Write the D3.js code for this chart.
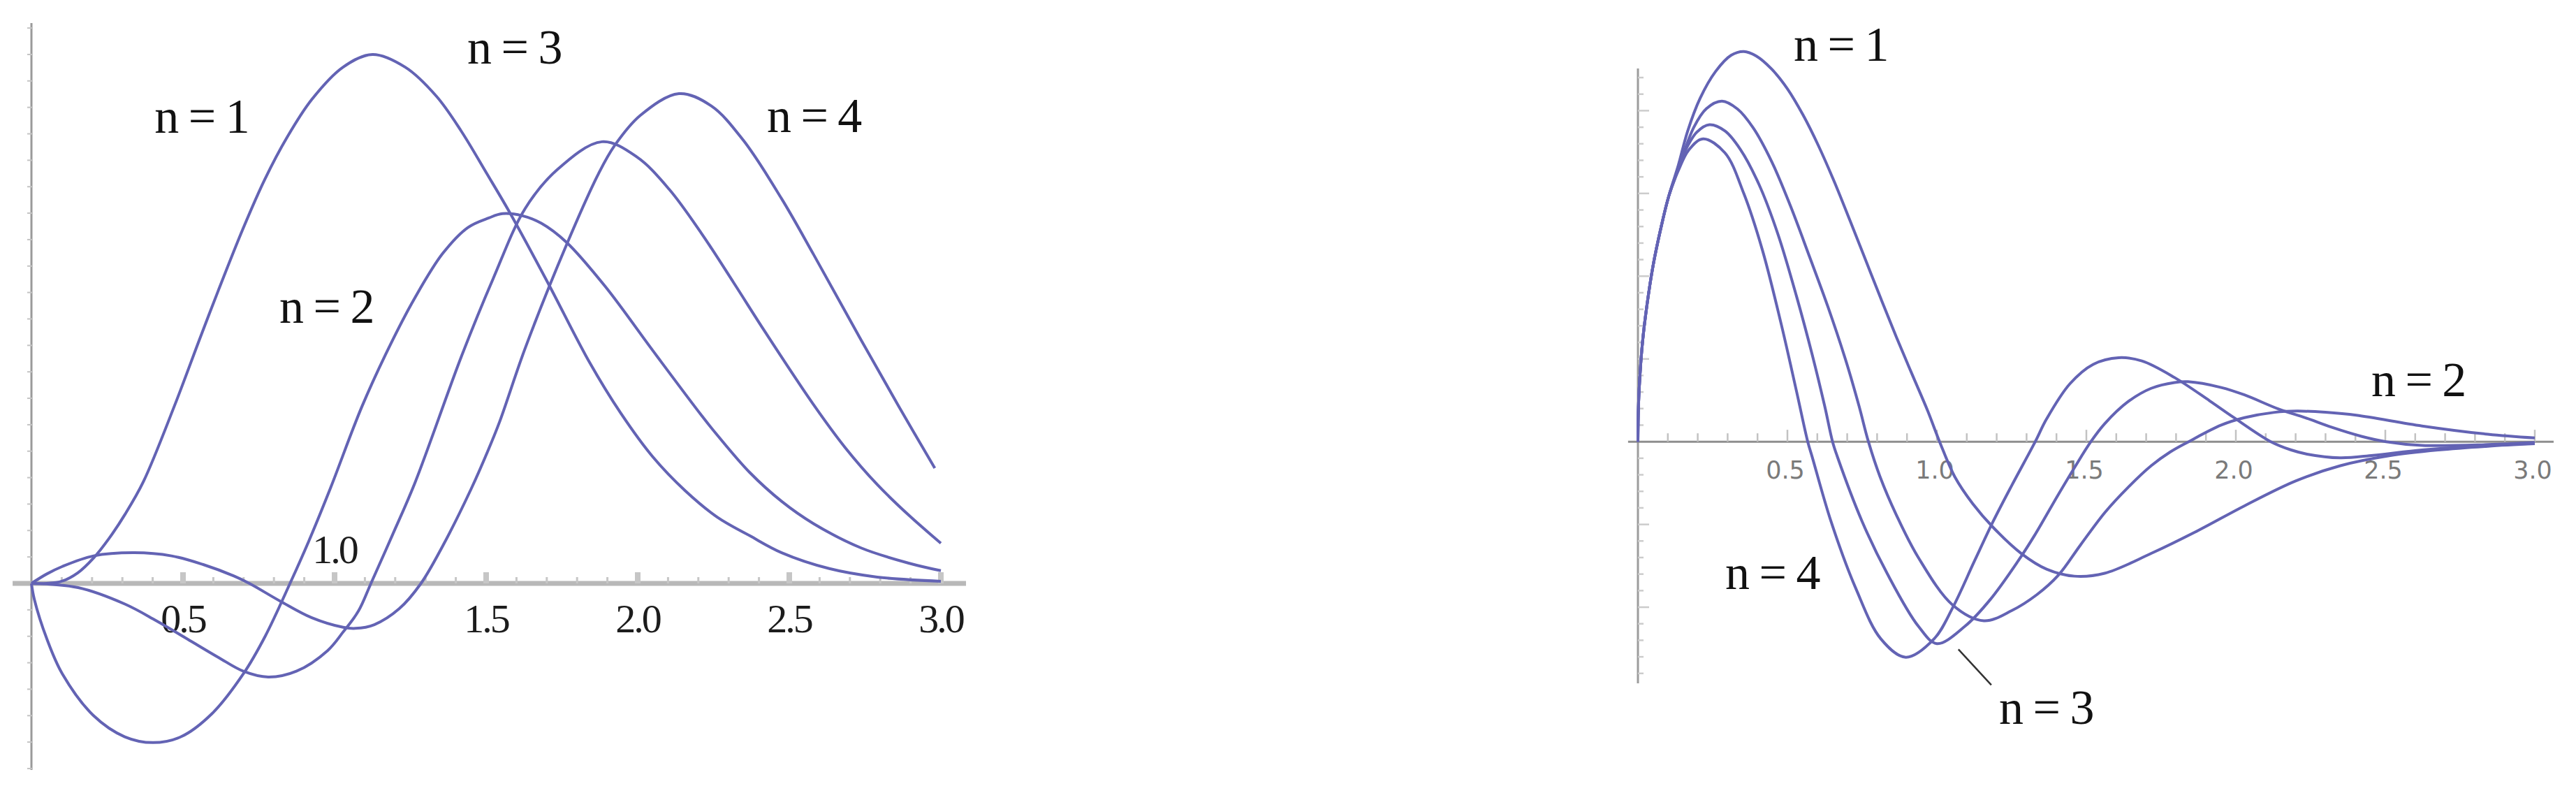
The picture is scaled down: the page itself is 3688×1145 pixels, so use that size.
<!DOCTYPE html>
<html>
<head>
<meta charset="utf-8">
<script src="https://cdn.jsdelivr.net/npm/d3@7"></script>
<style>
  body { margin: 0; background: #fff; }
  svg { display: block; }
</style>
</head>
<body>
<svg width="3688" height="1145"></svg>
<script>
// ---- left panel, values ----
const leftT_x = [0, 0.05, 0.10, 0.153, 0.205, 0.256, 0.308, 0.369, 0.472, 0.555, 0.616, 0.699, 0.770, 0.843, 0.925, 1.028, 1.125, 1.233, 1.336, 1.418, 1.502, 1.576, 1.703, 1.840, 1.945, 2.050, 2.157, 2.263, 2.370, 2.475, 2.632, 2.790, 3.0];
const leftT_y = [0, 0, 0.004, 0.02, 0.048, 0.085, 0.13, 0.192, 0.336, 0.462, 0.553, 0.672, 0.764, 0.843, 0.915, 0.976, 1.0, 0.976, 0.921, 0.855, 0.775, 0.703, 0.569, 0.419, 0.321, 0.239, 0.175, 0.125, 0.090, 0.058, 0.028, 0.012, 0.004];

const leftD_x = [0, 0.0095, 0.051, 0.102, 0.205, 0.308, 0.401, 0.493, 0.596, 0.699, 0.771, 0.853, 0.915, 0.987, 1.09, 1.182, 1.265, 1.357, 1.44, 1.509, 1.554, 1.62, 1.682, 1.765, 1.892, 2.05, 2.21, 2.263, 2.369, 2.475, 2.58, 2.737, 2.896, 3.0];
const leftD_y = [0, -0.030, -0.105, -0.171, -0.250, -0.290, -0.301, -0.290, -0.246, -0.171, -0.100, 0, 0.08, 0.181, 0.334, 0.449, 0.54, 0.624, 0.673, 0.691, 0.699, 0.695, 0.681, 0.645, 0.562, 0.44, 0.318, 0.28, 0.21, 0.155, 0.113, 0.067, 0.038, 0.024];

const leftM_x = [0, 0.154, 0.308, 0.41, 0.514, 0.617, 0.699, 0.781, 0.874, 0.977, 1.028, 1.079, 1.12, 1.192, 1.265, 1.419, 1.523, 1.629, 1.734, 1.882, 1.998, 2.104, 2.21, 2.316, 2.422, 2.58, 2.684, 2.79, 2.896, 3.0];
const leftM_y = [0, -0.008, -0.039, -0.070, -0.105, -0.140, -0.166, -0.177, -0.166, -0.127, -0.092, -0.052, 0, 0.093, 0.19, 0.43, 0.576, 0.709, 0.782, 0.835, 0.806, 0.745, 0.662, 0.569, 0.474, 0.338, 0.257, 0.187, 0.128, 0.076];

const leftU_x = [0, 0.051, 0.102, 0.205, 0.339, 0.462, 0.565, 0.668, 0.719, 0.822, 0.925, 1.028, 1.069, 1.131, 1.213, 1.285, 1.357, 1.45, 1.509, 1.544, 1.629, 1.765, 1.871, 1.924, 2.009, 2.136, 2.242, 2.348, 2.475, 2.58, 2.737, 2.864, 2.98];
const leftU_y = [0, 0.018, 0.032, 0.052, 0.058, 0.052, 0.036, 0.014, 0, -0.034, -0.065, -0.083, -0.085, -0.078, -0.048, 0, 0.071, 0.178, 0.255, 0.305, 0.445, 0.64, 0.775, 0.828, 0.885, 0.926, 0.903, 0.838, 0.727, 0.622, 0.46, 0.332, 0.218];

// ---- right panel ----
const rightA_x = [0, 0.001, 0.004, 0.015, 0.03, 0.051, 0.077, 0.103, 0.135, 0.166, 0.208, 0.26, 0.312, 0.354, 0.396, 0.448, 0.5, 0.552, 0.604, 0.657, 0.709, 0.761, 0.813, 0.865, 0.917, 0.969, 1.009, 1.06, 1.12, 1.188, 1.282, 1.367, 1.46, 1.561, 1.717, 1.873, 2.029, 2.2, 2.35, 2.513, 2.678, 2.843, 3.0];
const rightA_y = [0, 0.062, 0.125, 0.238, 0.329, 0.427, 0.517, 0.593, 0.668, 0.75, 0.83, 0.895, 0.934, 0.943, 0.932, 0.9, 0.853, 0.79, 0.715, 0.628, 0.535, 0.44, 0.345, 0.252, 0.163, 0.075, 0, -0.085, -0.15, -0.207, -0.27, -0.308, -0.325, -0.318, -0.27, -0.215, -0.155, -0.095, -0.058, -0.034, -0.02, -0.011, -0.005];

const rightB_x = [0, 0.001, 0.004, 0.015, 0.03, 0.051, 0.077, 0.103, 0.135, 0.187, 0.229, 0.281, 0.333, 0.385, 0.448, 0.51, 0.573, 0.636, 0.698, 0.74, 0.771, 0.81, 0.865, 0.938, 1.053, 1.157, 1.251, 1.334, 1.406, 1.48, 1.562, 1.64, 1.717, 1.78, 1.842, 1.951, 2.029, 2.13, 2.205, 2.3, 2.403, 2.623, 2.843, 3.0];
const rightB_y = [0, 0.062, 0.125, 0.238, 0.329, 0.427, 0.517, 0.593, 0.66, 0.76, 0.805, 0.823, 0.804, 0.759, 0.676, 0.57, 0.449, 0.325, 0.19, 0.085, 0, -0.085, -0.178, -0.28, -0.395, -0.433, -0.408, -0.37, -0.323, -0.25, -0.171, -0.11, -0.058, -0.025, 0, 0.04, 0.058, 0.071, 0.074, 0.071, 0.064, 0.038, 0.018, 0.009];

const rightC_x = [0, 0.001, 0.004, 0.015, 0.03, 0.051, 0.077, 0.103, 0.135, 0.156, 0.197, 0.239, 0.291, 0.343, 0.406, 0.469, 0.531, 0.583, 0.625, 0.651, 0.667, 0.75, 0.834, 0.938, 1.0, 1.094, 1.178, 1.272, 1.328, 1.406, 1.46, 1.515, 1.562, 1.64, 1.717, 1.795, 1.84, 1.951, 2.029, 2.146, 2.232, 2.32, 2.42, 2.503, 2.623, 2.843, 3.0];
const rightC_y = [0, 0.062, 0.125, 0.238, 0.329, 0.427, 0.517, 0.593, 0.66, 0.7, 0.748, 0.766, 0.751, 0.706, 0.62, 0.5, 0.35, 0.21, 0.085, 0, -0.036, -0.193, -0.319, -0.446, -0.488, -0.446, -0.382, -0.288, -0.225, -0.128, -0.063, 0, 0.044, 0.097, 0.129, 0.143, 0.145, 0.131, 0.113, 0.078, 0.058, 0.035, 0.013, 0, -0.009, -0.007, -0.002];

const rightD_x = [0, 0.001, 0.004, 0.015, 0.03, 0.051, 0.077, 0.103, 0.135, 0.17, 0.218, 0.291, 0.354, 0.416, 0.479, 0.531, 0.568, 0.583, 0.646, 0.729, 0.813, 0.896, 0.99, 1.053, 1.126, 1.188, 1.251, 1.329, 1.367, 1.445, 1.523, 1.608, 1.686, 1.795, 1.912, 1.99, 2.117, 2.185, 2.238, 2.348, 2.459, 2.623, 2.843, 3.0];
const rightD_y = [0, 0.062, 0.125, 0.238, 0.329, 0.427, 0.517, 0.593, 0.655, 0.705, 0.732, 0.698, 0.6, 0.464, 0.285, 0.12, 0, -0.037, -0.193, -0.355, -0.477, -0.521, -0.477, -0.401, -0.288, -0.193, -0.105, 0, 0.055, 0.14, 0.187, 0.203, 0.195, 0.155, 0.099, 0.06, 0, -0.02, -0.03, -0.039, -0.033, -0.02, -0.009, -0.004];

// axis tick labels and curve labels
const tickValues = [0.5, 1.0, 1.5, 2.0, 2.5, 3.0];
const tickLabels = ["0.5", "1.0", "1.5", "2.0", "2.5", "3.0"];
const labelText = ["n = 1", "n = 2", "n = 3", "n = 4"];
const leftLabelX = [0.406, 0.818, 1.438, 2.426];
const leftLabelY = [0.852, 0.493, 0.983, 0.853];
const rightLabelX = [0.521, 2.453, 1.208, 0.292];
const rightLabelY = [0.921, 0.11, -0.682, -0.356];
const rightPointer = [[1.072, -0.502], [1.182, -0.588]];

const lineColor = "#6363b4";
const svg = d3.select("svg");
svg.append("rect").attr("width", 3688).attr("height", 1145).attr("fill", "#fff");

const zip = (xs, ys) => xs.map((x, i) => [x, ys[i]]);
const isHalf = (d) => Math.abs(d * 2 - Math.round(d * 2)) < 1e-6;

// ---------- left ----------
const xL = d3.scaleLinear().domain([0, 3]).range([45, 1347]);
const yL = d3.scaleLinear().domain([-0.3527, 1.0594]).range([1102, 33]);
const left = svg.append("g");

// y axis with faint ticks
left.append("line")
  .attr("x1", xL(0)).attr("x2", xL(0))
  .attr("y1", yL(1.0594)).attr("y2", yL(-0.3527))
  .attr("stroke", "#9a9a9a").attr("stroke-width", 3);
left.selectAll(".ytick")
  .data(d3.range(-7, 22).map((i) => i * 0.05).filter((v) => Math.abs(v) > 1e-9))
  .enter().append("line")
  .attr("x1", xL(0) - 6).attr("x2", xL(0) + 2)
  .attr("y1", (d) => yL(d)).attr("y2", (d) => yL(d))
  .attr("stroke", "#c4c4c4").attr("stroke-width", 2);

// x axis: thick light band with ticks pointing up
left.append("line")
  .attr("x1", xL(-0.062)).attr("x2", xL(3.083))
  .attr("y1", yL(0)).attr("y2", yL(0))
  .attr("stroke", "#b8b8b8").attr("stroke-width", 7);
const minorTicks = d3.range(1, 31).map((i) => i / 10);
left.selectAll(".xtick")
  .data(minorTicks)
  .enter().append("line")
  .attr("x1", (d) => xL(d)).attr("x2", (d) => xL(d))
  .attr("y1", yL(0))
  .attr("y2", (d) => yL(0) - (isHalf(d) ? 16 : 9))
  .attr("stroke", "#c6c6c6")
  .attr("stroke-width", (d) => (isHalf(d) ? 8 : 3));

left.selectAll(".xlab")
  .data(tickValues)
  .enter().append("text")
  .attr("x", (d) => xL(d))
  .attr("y", (d) => (d === 1.0 ? yL(0) - 29 : yL(0) + 70))
  .attr("text-anchor", "middle")
  .attr("font-family", "Liberation Serif, serif")
  .attr("font-size", 58)
  .attr("letter-spacing", -3)
  .attr("fill", "#1c1c1c")
  .text((d, i) => tickLabels[i]);

const lineL = d3.line().x((d) => xL(d[0])).y((d) => yL(d[1])).curve(d3.curveCatmullRom.alpha(0.5));
[zip(leftT_x, leftT_y), zip(leftD_x, leftD_y), zip(leftM_x, leftM_y), zip(leftU_x, leftU_y)]
  .forEach((pts) => {
    left.append("path").attr("d", lineL(pts))
      .attr("fill", "none").attr("stroke", lineColor)
      .attr("stroke-width", 4).attr("stroke-linejoin", "round");
  });

left.selectAll(".lab")
  .data(labelText)
  .enter().append("text")
  .attr("x", (d, i) => xL(leftLabelX[i]))
  .attr("y", (d, i) => yL(leftLabelY[i]))
  .attr("font-family", "Liberation Serif, serif")
  .attr("font-size", 70)
  .attr("word-spacing", -4)
  .attr("fill", "#111")
  .text((d) => d);

// ---------- right ----------
const xR = d3.scaleLinear().domain([0, 3]).range([2345, 3629]);
const yR = d3.scaleLinear().domain([-0.584, 0.902]).range([978, 98]);
const right = svg.append("g");

right.append("line")
  .attr("x1", xR(0)).attr("x2", xR(0))
  .attr("y1", yR(0.902)).attr("y2", yR(-0.584))
  .attr("stroke", "#9c9c9c").attr("stroke-width", 3);
right.selectAll(".ytick")
  .data(d3.range(-14, 23).map((i) => i * 0.04).filter((v) => Math.abs(v) > 1e-9))
  .enter().append("line")
  .attr("x1", xR(0))
  .attr("x2", (d) => xR(0) + (Math.abs(d / 0.2 - Math.round(d / 0.2)) < 1e-6 ? 16 : 8))
  .attr("y1", (d) => yR(d)).attr("y2", (d) => yR(d))
  .attr("stroke", "#cccccc").attr("stroke-width", 2.5);

right.append("line")
  .attr("x1", xR(-0.033)).attr("x2", xR(3.063))
  .attr("y1", yR(0)).attr("y2", yR(0))
  .attr("stroke", "#8e8e8e").attr("stroke-width", 3);
right.selectAll(".xtick")
  .data(minorTicks)
  .enter().append("line")
  .attr("x1", (d) => xR(d)).attr("x2", (d) => xR(d))
  .attr("y1", yR(0))
  .attr("y2", (d) => yR(0) - (isHalf(d) ? 17 : 12))
  .attr("stroke", "#c2c2c2").attr("stroke-width", 2.5);

right.selectAll(".xlab")
  .data(tickValues)
  .enter().append("text")
  .attr("x", (d) => xR(d) - 3)
  .attr("y", yR(0) + 53)
  .attr("text-anchor", "middle")
  .attr("font-family", "DejaVu Sans, sans-serif")
  .attr("font-size", 35)
  .attr("fill", "#7a7a7a")
  .text((d, i) => tickLabels[i]);

const lineR = d3.line().x((d) => xR(d[0])).y((d) => yR(d[1])).curve(d3.curveCatmullRom.alpha(0.5));
[zip(rightA_x, rightA_y), zip(rightB_x, rightB_y), zip(rightC_x, rightC_y), zip(rightD_x, rightD_y)]
  .forEach((pts) => {
    right.append("path").attr("d", lineR(pts))
      .attr("fill", "none").attr("stroke", lineColor)
      .attr("stroke-width", 4).attr("stroke-linejoin", "round");
  });

right.selectAll(".lab")
  .data(labelText)
  .enter().append("text")
  .attr("x", (d, i) => xR(rightLabelX[i]))
  .attr("y", (d, i) => yR(rightLabelY[i]))
  .attr("font-family", "Liberation Serif, serif")
  .attr("font-size", 70)
  .attr("word-spacing", -4)
  .attr("fill", "#111")
  .text((d) => d);

right.append("line")
  .attr("x1", xR(rightPointer[0][0])).attr("y1", yR(rightPointer[0][1]))
  .attr("x2", xR(rightPointer[1][0])).attr("y2", yR(rightPointer[1][1]))
  .attr("stroke", "#333").attr("stroke-width", 2.5);
</script>
</body>
</html>
